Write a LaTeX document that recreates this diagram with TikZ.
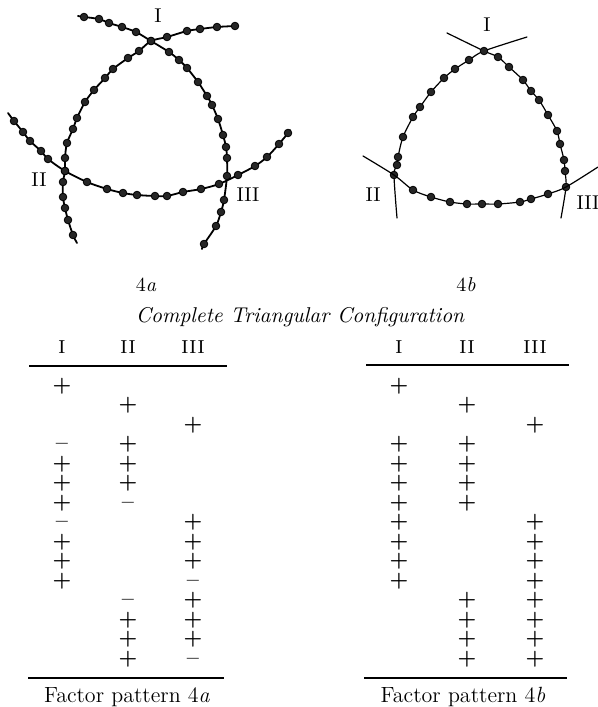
\documentclass[tikz,border=0pt]{standalone}
\usepackage{tikz}
\usetikzlibrary{positioning}

\tikzset{
  wire/.style={line width=0.9pt, line cap=round},
  thinwire/.style={line width=0.6pt, line cap=round},
  beads/.style={mark=*, mark size=1.9pt, mark options={fill=black!85, draw=black, line width=0.4pt}},
  numlabel/.style={font=\fontsize{10}{12}\selectfont, inner sep=0pt},
  colhead/.style={font=\fontsize{12.5}{14}\selectfont\scshape, inner sep=0pt},
  sign/.style={font=\fontsize{10.5}{12}\selectfont\bfseries, inner sep=0pt, text height=6.6pt, text depth=1pt},
  tabrule/.style={line width=0.9pt},
  caption/.style={font=\fontsize{11}{13}\selectfont, inner sep=0pt},
}
\newcommand{\pl}{+}
\newcommand{\mi}{--}

\begin{document}
\begin{tikzpicture}[x=0.5pt, y=-0.5pt]
  \useasboundingbox (0,0) rectangle (598,707);

  % figure 4a
  \draw[wire] plot[smooth, tension=0.5, beads, mark indices={2,...,22}] coordinates {
    (78,16) (84,17) (99,19) (109,23) (122,27) (136,32) (151,41) (169,52) (179,60) (187,68) (198,82) (207,96)
    (212,105) (218,119) (223,135) (226,147) (227,158) (227,176) (224,200) (221,212) (216,226) (204,244) (202,249)};
  \draw[wire] plot[smooth, tension=0.5, beads, mark indices={1,...,22}] coordinates {
    (235,26) (217,27) (200,29) (187,31) (167,37) (151,41) (139,51) (128,58) (113,69) (105,78) (94,90) (85,102)
    (77,118) (73,129) (67,143) (65,158) (65,171) (63,182) (63,197) (65,208) (68,220) (73,235) (77,243)};
  \draw[wire] plot[smooth, tension=0.5, beads, mark indices={2,...,21}] coordinates {
    (8,113) (14,121) (23,132) (30,141) (41,151) (48,159) (65,171) (87,182) (107,189) (123,193) (137,195)
    (155,196) (167,196) (183,192) (201,189) (219,184) (238,175) (255,166) (267,157) (279,144) (288,133) (290,130)};
  \node[numlabel] (aI) at (158,16) {I};
  \node[numlabel] (aII) at (39,180) {II};
  \node[numlabel] (aIII) at (248,195) {III};

  % figure 4b
  \draw[thinwire] plot[smooth, tension=0.5, beads, mark indices={3,...,13}] coordinates {
    (447,33) (484,51) (498,57) (509,67) (523,80) (531,91) (539,100) (548,115) (557,131) (560,144) (564,160)
    (565,171) (566,187) (561,218)};
  \draw[thinwire] plot[smooth, tension=0.5, beads, mark indices={2,...,12}] coordinates {
    (527,37) (484,51) (469,60) (455,69) (444,78) (431,92) (420,107) (413,117) (403,137) (398,157) (397,165)
    (394,175) (397,218)};
  \draw[thinwire] plot[smooth, tension=0.5, beads, mark indices={3,...,11}] coordinates {
    (363,156) (394,175) (413,190) (431,197) (450,202) (467,204) (482,204) (498,204) (520,202) (531,199)
    (548,194) (566,187) (598,167)};
  \node[numlabel] (bI) at (487,25) {I};
  \node[numlabel] (bII) at (373,195) {II};
  \node[numlabel] (bIII) at (588,203) {III};

  \node[numlabel] (titleA) at (146,285) {4\textit{a}};
  \node[numlabel] (titleB) at (466,285) {4\textit{b}};
  \node[font=\fontsize{10.7}{13}\selectfont\itshape, inner sep=0pt] (config) at (300,317) {Complete Triangular Configuration};

  % factor pattern 4a
  \node[colhead] (haI) at (62,347) {i};
  \node[colhead] (haII) at (128,347) {ii};
  \node[colhead] (haIII) at (193,347) {iii};
  \draw[tabrule] (29,366) -- (227,366);
  \foreach \c/\x/\signs in {1/62/{1/\pl,4/\mi,5/\pl,6/\pl,7/\pl,8/\mi,9/\pl,10/\pl,11/\pl},
                            2/128/{2/\pl,4/\pl,5/\pl,6/\pl,7/\mi,12/\mi,13/\pl,14/\pl,15/\pl},
                            3/193/{3/\pl,8/\pl,9/\pl,10/\pl,11/\mi,12/\pl,13/\pl,14/\pl,15/\mi}}
    \foreach \r/\s in \signs
      \node[sign] (fa\c-\r) at (\x,{366+19.5*\r}) {\s};
  \draw[tabrule] (28,678) -- (224,678);
  \node[caption] (capA) at (127,697) {Factor pattern 4\textit{a}};

  % factor pattern 4b
  \node[colhead] (hbI) at (399,347) {i};
  \node[colhead] (hbII) at (467,347) {ii};
  \node[colhead] (hbIII) at (535,347) {iii};
  \draw[tabrule] (366,365) -- (569,365);
  \foreach \c/\x/\rows in {1/399/{1,4,5,6,7,8,9,10,11},
                           2/467/{2,4,5,6,7,12,13,14,15},
                           3/535/{3,8,9,10,11,12,13,14,15}}
    \foreach \r in \rows
      \node[sign] (fb\c-\r) at (\x,{366+19.5*\r}) {\pl};
  \draw[tabrule] (364,678) -- (567,678);
  \node[caption] (capB) at (463,697) {Factor pattern 4\textit{b}};
\end{tikzpicture}
\end{document}
